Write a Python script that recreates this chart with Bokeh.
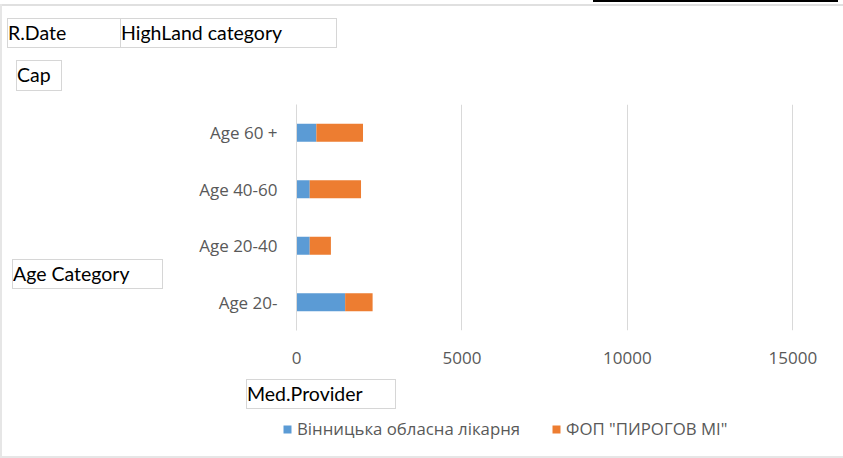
from bokeh.plotting import figure
from bokeh.models import (ColumnDataSource, FactorRange, Range1d, FixedTicker,
                          Legend, LegendItem, Div)
from bokeh.embed import file_html
from bokeh.resources import INLINE

# ---- data ----
categories = ["Age 20-", "Age 20-40", "Age 40-60", "Age 60 +"]
vinnytsia = [1470, 400, 400, 600]
pyrogov = [830, 640, 1550, 1410]
series_names = ["Вінницька обласна лікарня", 'ФОП "ПИРОГОВ МІ"']
x_ticks = [0, 5000, 10000, 15000]
field_buttons = ["R.Date", "HighLand category", "Cap", "Age Category", "Med.Provider"]

BLUE = "#5B9BD5"
ORANGE = "#ED7D31"
GRID = "#D9D9D9"
TXT = "#595959"
FONT = "Open Sans"

source = ColumnDataSource(dict(cat=categories, v=vinnytsia, p=pyrogov))

p = figure(width=843, height=458, output_backend="svg", toolbar_location=None,
           y_range=FactorRange(factors=categories, range_padding=0),
           x_range=Range1d(0, 15050),
           min_border_left=296, min_border_right=49,
           min_border_top=104, min_border_bottom=128)
p.outline_line_color = None
p.background_fill_color = "white"
p.border_fill_color = "white"

rs = p.hbar_stack(["v", "p"], y="cat", height=0.32, color=[BLUE, ORANGE],
                  line_color=None, source=source)

# axes
xa = p.xaxis[0]
xa.ticker = FixedTicker(ticks=x_ticks)
xa.axis_line_color = None
xa.major_tick_line_color = None
xa.minor_tick_line_color = None
xa.major_label_text_color = TXT
xa.major_label_text_font = FONT
xa.major_label_text_font_size = "17px"
xa.major_label_standoff = 15

ya = p.yaxis[0]
ya.axis_line_color = GRID
ya.axis_line_width = 1
ya.major_tick_line_color = None
ya.minor_tick_line_color = None
ya.major_label_text_color = TXT
ya.major_label_text_font = FONT
ya.major_label_text_font_size = "17px"
ya.major_label_standoff = 13

p.xgrid.grid_line_color = GRID
p.xgrid.ticker = FixedTicker(ticks=x_ticks)
p.ygrid.grid_line_color = None

# ---- legend: a transparent strip laid over the bottom of the chart ----
LEG_TOP = 408
q = figure(width=843, height=40, output_backend="svg", toolbar_location=None,
           x_range=Range1d(-2, -1),
           y_range=FactorRange(factors=categories, range_padding=0),
           min_border=0, min_border_left=0, min_border_right=0,
           min_border_top=0, min_border_bottom=0,
           x_axis_location=None, y_axis_location=None,
           styles={"position": "absolute", "left": "0px", "top": f"{LEG_TOP}px"})
q.outline_line_color = None
q.background_fill_alpha = 0
q.border_fill_alpha = 0
q.grid.visible = False
# same series (out of this strip's view) so that the legend keys use their styles
qs = q.hbar_stack(["v", "p"], y="cat", height=0.32, color=[BLUE, ORANGE],
                  line_color=None, source=source)
legend = Legend(items=[LegendItem(label=series_names[0], renderers=[qs[0]]),
                       LegendItem(label=series_names[1], renderers=[qs[1]])],
                location=(282, 8), orientation="horizontal",
                glyph_width=10, glyph_height=10, label_standoff=5, spacing=31,
                label_height=20,
                padding=0, margin=0, border_line_color=None,
                background_fill_alpha=0,
                label_text_font=FONT, label_text_font_size="16.8px",
                label_text_color=TXT)
q.add_layout(legend)

# ---- pivot field buttons + chart-area border, as an HTML overlay ----
boxes = [  # (left, top, width, height)
    (7, 18, 114, 30),
    (120, 18, 217, 30),
    (16, 60, 46, 31),
    (12, 259, 151, 30),
    (246, 379, 150, 30),
]
parts = [
    '<div style="position:absolute;left:593px;top:0px;width:245px;height:2px;background:#000"></div>',
    '<div style="position:absolute;left:0px;top:4px;width:843px;height:2px;background:#E0E0E0"></div>',
    '<div style="position:absolute;left:0px;top:4px;width:1.5px;height:453px;background:#E6E6E6"></div>',
    '<div style="position:absolute;left:0px;top:456px;width:843px;height:1.5px;background:#E6E6E6"></div>',
]
for txt, (bx, by, bw, bh) in zip(field_buttons, boxes):
    parts.append(
        f'<div style="position:absolute;left:{bx}px;top:{by}px;width:{bw}px;height:{bh}px;'
        'box-sizing:border-box;border:1.5px solid #D6D6D6;background:#fff;'
        'font-family:Lato,sans-serif;font-size:19.5px;line-height:27px;color:#000;'
        f'padding-left:0px;white-space:nowrap;overflow:hidden">{txt}</div>')
html = ('<div style="position:relative;width:843px;height:458px">'
        + "".join(parts) + '</div>')
overlay = Div(text=html, width=843, height=458, margin=0,
              styles={"position": "absolute", "left": "0px", "top": "0px"})

open("out.html", "w").write(file_html([p, q, overlay], INLINE))
